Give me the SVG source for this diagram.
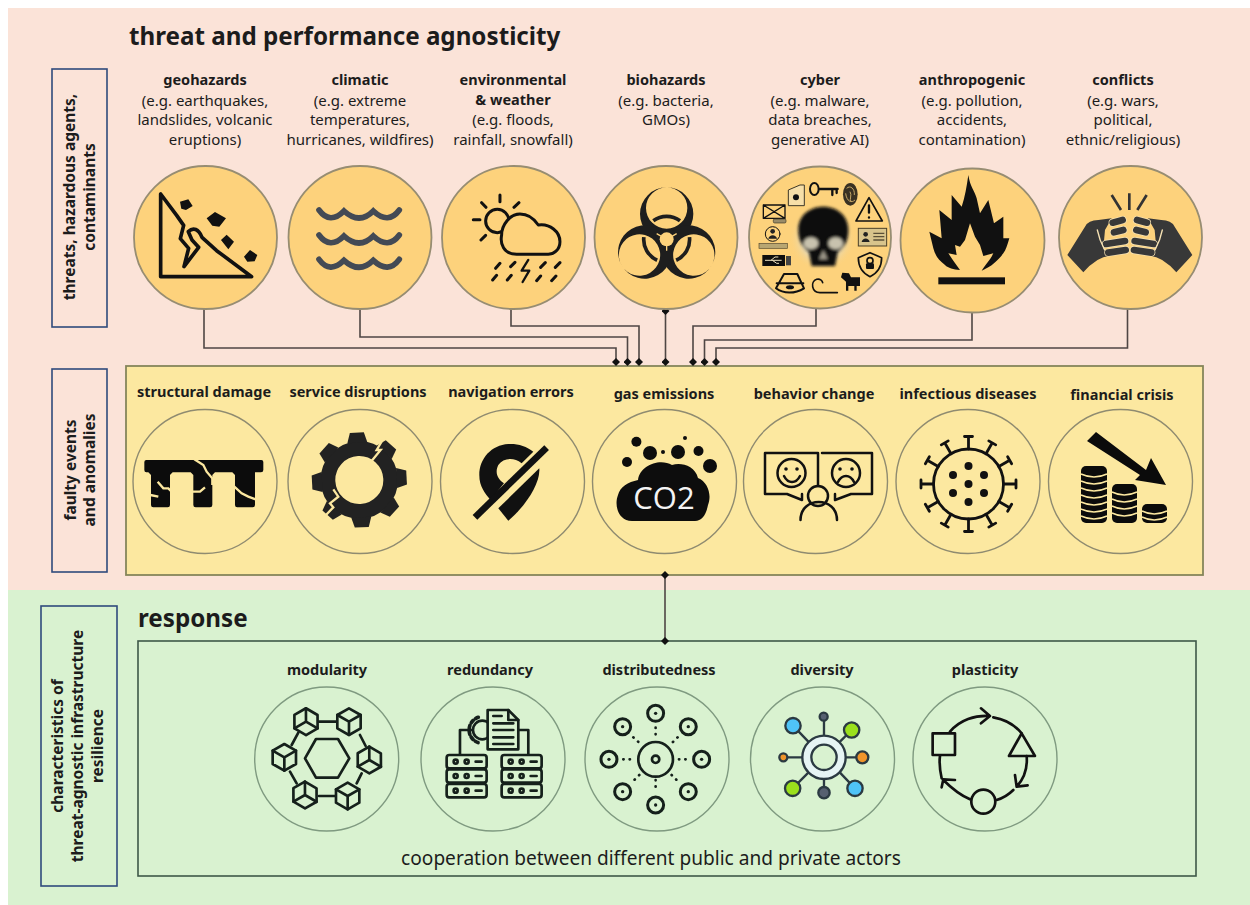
<svg xmlns="http://www.w3.org/2000/svg" xmlns:xlink="http://www.w3.org/1999/xlink" width="1250" height="905" viewBox="0 0 1250 905">
<style>
text{font-family:"Noto Sans","Liberation Sans",Arial,sans-serif;fill:#1c1c1c;text-anchor:middle}
.h{font-size:24.200px;font-weight:700;text-anchor:start}
.b{font-size:14.500px;font-weight:700}
.t{font-size:15px}
.side{font-size:15.500px;font-weight:700}
.sb{fill:none;stroke:#2f4a7c;stroke-width:1.6}
.oc{fill:#fdd27c;stroke:#978d72;stroke-width:1.8}
.yc{fill:#fce8a0;stroke:#8f8b70;stroke-width:1.4}
.gc{fill:#d9f2d0;stroke:#7f9a80;stroke-width:1.4}
.con{fill:none;stroke:#4f4644;stroke-width:1.6}
.ln{fill:none;stroke:#15201b;stroke-width:8;stroke-linecap:round;stroke-linejoin:round}
.k{fill:none;stroke:#111;stroke-linecap:round;stroke-linejoin:round}
</style>
<defs>
<marker id="dia" viewBox="-5 -5 10 10" markerWidth="8" markerHeight="8" markerUnits="userSpaceOnUse" orient="auto"><path d="M-5 0L0-5L5 0L0 5Z" fill="#111"/></marker>
<filter id="blur" x="-20%" y="-20%" width="140%" height="140%"><feGaussianBlur stdDeviation="5"/></filter>
<radialGradient id="glow"><stop offset="0" stop-color="#efe8d4"/><stop offset=".6" stop-color="#e6d9b4"/><stop offset="1" stop-color="#fdd27c" stop-opacity="0"/></radialGradient>
<g id="cube" class="ln"><path d="M0-40L35-20V20L0 40L-35 20V-20Z"/><path d="M-35-20L0 0L35-20M0 0V40"/></g>
<g id="sat"><circle r="24" fill="none" stroke="#15201b" stroke-width="9"/><circle r="5" fill="#15201b"/></g>
<g id="srv" class="ln"><rect x="0" y="0" width="120" height="40" rx="8"/><rect x="0" y="43" width="120" height="40" rx="8"/><rect x="0" y="87" width="120" height="40" rx="8"/><circle cx="27" cy="20" r="6"/><circle cx="60" cy="20" r="6"/><path d="M87 20H105"/><circle cx="27" cy="63" r="6"/><circle cx="60" cy="63" r="6"/><path d="M87 63H105"/><circle cx="27" cy="107" r="6"/><circle cx="60" cy="107" r="6"/><path d="M87 107H105"/></g>
<g id="spike"><path d="M0-35V-47M-4-47.500H4" fill="none" stroke="#111" stroke-width="2.800" stroke-linecap="round"/></g>
<g id="fist"><path d="M22 210L75 125Q85 105 115 105L155 100L135 135L130 190L150 212Q110 215 70 262Z" fill="#383838"/>
<g fill="none" stroke-linecap="round"><path d="M158 113L188 105M162 142L190 135M138 177L195 168M145 203L197 195" stroke="#f6e2b4" stroke-width="24"/><path d="M158 113L188 105M162 142L190 135M138 177L195 168M145 203L197 195" stroke="#383838" stroke-width="20"/><path d="M112 135Q118 165 134 195" stroke="#f6e2b4" stroke-width="4"/></g></g>
<path id="crescent" fill-rule="evenodd" d="M90 102a80 80 0 1 0 160 0a80 80 0 1 0-160 0ZM108 84a62 62 0 1 0 124 0a62 62 0 1 0-124 0Z"/>
</defs>

<rect x="8" y="8" width="1242" height="582" fill="#fbe3d8"/>
<rect x="8" y="590" width="1242" height="315" fill="#d9f2d0"/>
<text class="h" x="129" y="45">threat and performance agnosticity</text>
<text class="h" x="138" y="627">response</text>

<g id="side-threats"><rect class="sb" x="52" y="69" width="55" height="258"/><text class="side" transform="translate(75,197) rotate(-90)">threats, hazardous agents,</text><text class="side" transform="translate(95,197) rotate(-90)">contaminants</text></g>
<g id="side-faulty"><rect class="sb" x="52" y="369" width="55" height="203"/><text class="side" transform="translate(76,470) rotate(-90)">faulty events</text><text class="side" transform="translate(95,470) rotate(-90)">and anomalies</text></g>
<g id="side-resilience"><rect class="sb" x="41" y="606" width="76" height="280"/><text class="side" transform="translate(63,746) rotate(-90)">characteristics of</text><text class="side" transform="translate(83,746) rotate(-90)">threat-agnostic infrastructure</text><text class="side" transform="translate(103,746) rotate(-90)">resilience</text></g>

<g id="faulty-panel"><rect x="126" y="366" width="1077" height="209" fill="#fce8a0" stroke="#85855a" stroke-width="1.800"/></g>
<g id="response-panel"><rect x="138" y="641" width="1058" height="235" fill="none" stroke="#3e5848" stroke-width="1.600"/><text x="651" y="865" style="font-size:19.100px">cooperation between different public and private actors</text></g>

<g id="connectors">
<path class="con" marker-end="url(#dia)" d="M204 309V348H616V362"/>
<path class="con" marker-end="url(#dia)" d="M360 309V337H627.500V362"/>
<path class="con" marker-end="url(#dia)" d="M511 309V326H639V362"/>
<path class="con" marker-start="url(#dia)" marker-end="url(#dia)" d="M665.500 311V362"/>
<path class="con" marker-end="url(#dia)" d="M816 309V326H693V362"/>
<path class="con" marker-end="url(#dia)" d="M972 313V340H704.500V362"/>
<path class="con" marker-end="url(#dia)" d="M1127.500 309V348H716V362"/>
<path class="con" marker-start="url(#dia)" marker-end="url(#dia)" d="M665 575V641"/>
</g>

<g id="geohazards"><text class="b" x="205" y="85">geohazards</text><text class="t" x="205" y="106">(e.g. earthquakes,</text><text class="t" x="205" y="125">landslides, volcanic</text><text class="t" x="205" y="145">eruptions)</text>
<circle class="oc" cx="205.500" cy="237.500" r="71.500"/>
<g transform="translate(120,160) scale(.3333)">
<path class="k" stroke-width="11" d="M122 102V350H395L290 272L246 232C236 207 220 200 205 215L216 240L236 262L192 320L206 265L181 236L191 196L170 166Z"/>
<path d="M180 125L205 118L218 138L198 150L184 146Z M260 175L285 156L318 175L298 200L277 197Z M303 240L320 224L342 245L325 268Z M372 290L390 270L412 285L404 304L382 305Z" fill="#111"/></g></g>

<g id="climatic"><text class="b" x="360" y="85">climatic</text><text class="t" x="360" y="106">(e.g. extreme</text><text class="t" x="360" y="125">temperatures,</text><text class="t" x="360" y="145">hurricanes, wildfires)</text>
<circle class="oc" cx="360" cy="237.500" r="71.500"/>
<g transform="translate(120,160) scale(.3333)" fill="none" stroke="#434a55" stroke-width="17" stroke-linecap="round">
<path d="M597 150Q630 195 672 153Q718 195 760 153Q805 195 838 150"/>
<path d="M597 225Q630 270 672 228Q718 270 760 228Q805 270 838 225"/>
<path d="M597 298Q630 343 672 301Q718 343 760 301Q805 343 838 298"/></g></g>

<g id="environmental"><text class="b" x="513" y="85">environmental</text><text class="b" x="513" y="105">&amp; weather</text><text class="t" x="513" y="125">(e.g. floods,</text><text class="t" x="513" y="145">rainfall, snowfall)</text>
<circle class="oc" cx="513.500" cy="237.500" r="71.500"/>
<g transform="translate(120,160) scale(.3333)">
<circle class="k" stroke-width="9" cx="1132" cy="183" r="35"/>
<path class="k" stroke-width="9" d="M1140 105V125M1085 128L1098 142M1197 128L1182 142M1060 179H1080M1083 240L1097 226"/>
<path d="M1190 283C1150 283 1140 250 1145 225C1145 195 1170 162 1200 162C1230 162 1245 180 1255 195C1290 190 1320 215 1320 245C1320 270 1300 283 1285 283Z" fill="#fdd27c" stroke="#111" stroke-width="9" stroke-linejoin="round"/>
<path class="k" stroke-width="9" d="M1127 325L1140 310M1172 320L1185 307M1118 360L1130 346M1162 360L1174 346M1262 322L1276 308M1306 322L1320 308M1250 362L1262 348M1295 362L1308 348"/>
<path class="k" stroke-width="7" d="M1225 300L1205 332H1228L1208 366"/></g></g>

<g id="biohazards"><text class="b" x="666" y="85">biohazards</text><text class="t" x="666" y="106">(e.g. bacteria,</text><text class="t" x="666" y="125">GMOs)</text>
<circle class="oc" cx="666" cy="237.500" r="71.500"/>
<g transform="translate(610,180) scale(.3333)" fill="#1e1e1e">
<use href="#crescent"/><use href="#crescent" transform="rotate(120 170 178)"/><use href="#crescent" transform="rotate(240 170 178)"/>
<path d="M170 178V212M170 178L140 161M170 178L200 161" stroke="#fdd27c" stroke-width="4" fill="none"/>
<circle cx="170" cy="178" r="21" fill="#fdd27c"/>
<g fill="none" stroke="#1e1e1e" stroke-width="11"><path d="M130 122A68 68 0 0 1 210 122"/><path d="M130 122A68 68 0 0 1 210 122" transform="rotate(120 170 178)"/><path d="M130 122A68 68 0 0 1 210 122" transform="rotate(240 170 178)"/></g></g></g>

<g id="cyber"><text class="b" x="820" y="85">cyber</text><text class="t" x="820" y="106">(e.g. malware,</text><text class="t" x="820" y="125">data breaches,</text><text class="t" x="820" y="145">generative AI)</text>
<circle class="oc" cx="820" cy="237.500" r="71"/>
<g transform="translate(745,160) scale(.3333)">
<circle cx="232" cy="235" r="100" fill="url(#glow)"/>
<g filter="url(#blur)"><path d="M160 210C160 165 195 140 235 140C278 140 310 168 310 210C310 240 300 262 278 275L270 318H200L192 275C172 262 160 240 160 210Z" fill="#0c0c0c"/><ellipse cx="198" cy="250" rx="22" ry="18" fill="#c8c2ae"/><ellipse cx="272" cy="250" rx="22" ry="18" fill="#c8c2ae"/><path d="M235 270L222 298H248Z" fill="#9c9788"/></g>
<path d="M130 90L165 75H178V137H130Z" fill="#f7dfa8" stroke="#3c3626" stroke-width="3"/><circle cx="153" cy="112" r="9" fill="#111"/>
<ellipse class="k" stroke-width="6" cx="208" cy="87" rx="13" ry="18"/><path class="k" stroke-width="7" d="M222 87H278M262 87V105M275 87V99"/>
<ellipse cx="316" cy="103" rx="22" ry="34" fill="#3a3122"/><path d="M305 85C315 75 330 85 328 105M302 100C305 125 320 130 330 120M315 95C322 105 312 118 318 125" fill="none" stroke="#c7a866" stroke-width="3"/>
<path class="k" stroke-width="5" d="M372 113L333 183H412Z"/><path class="k" stroke-width="7" d="M372 136V158M372 172V173"/>
<rect x="340" y="205" width="85" height="53" fill="#d8c48c" stroke="#4a3f28" stroke-width="3"/><circle cx="362" cy="223" r="7" fill="#222"/><path d="M350 246C352 232 372 232 374 246Z" fill="#222"/><path d="M385 220H418M385 230H418M385 240H418" stroke="#5b5038" stroke-width="4"/>
<path class="k" stroke-width="5" d="M375 278L410 293C410 320 395 340 375 350C355 340 340 320 340 293Z"/><circle class="k" stroke-width="5" cx="375" cy="302" r="9"/><rect x="363" y="310" width="24" height="17" rx="3" fill="#111"/>
<path d="M292 338L312 340L318 352H345V378H335V392H328V378H310V392H303V365L288 352Z" fill="#111"/>
<path class="k" stroke-width="5" d="M277 398H225C200 398 195 365 215 358C225 355 232 362 233 368"/>
<path class="k" stroke-width="6" d="M93 385L117 342H157L177 385C150 402 115 402 93 385ZM95 370H175"/><ellipse cx="135" cy="382" rx="12" ry="6" fill="#111"/>
<rect x="52" y="285" width="68" height="33" fill="#0e0e0e"/><path d="M60 301H110M78 301L90 291H100M82 301L95 310H102" fill="none" stroke="#efe3c0" stroke-width="3"/><rect x="123" y="288" width="15" height="28" fill="#444"/>
<circle class="k" stroke-width="3" cx="83" cy="222" r="22"/><circle cx="83" cy="214" r="7" fill="#222"/><path d="M70 236C72 222 94 222 96 236Z" fill="#222"/><rect x="42" y="250" width="85" height="15" fill="#b8a672" stroke="#54492e" stroke-width="2"/>
<path class="k" stroke-width="4" d="M55 135H120V175H55ZM55 135L120 175M120 135L55 175"/><rect x="85" y="177" width="38" height="12" rx="4" fill="#9a8c68" stroke="#3c3626" stroke-width="2"/>
</g></g>

<g id="anthropogenic"><text class="b" x="972" y="85">anthropogenic</text><text class="t" x="972" y="106">(e.g. pollution,</text><text class="t" x="972" y="125">accidents,</text><text class="t" x="972" y="145">contamination)</text>
<circle class="oc" cx="972.500" cy="240.500" r="72"/>
<g transform="translate(920,170) scale(.3333)" fill="#111">
<path d="M145 15C150 50 165 65 170 85L180 130L205 90L222 160L250 140L250 205L268 205C262 225 258 240 250 250C235 270 215 290 185 302C195 285 210 272 220 250L190 258L180 225L165 200L150 160L135 210L120 230L105 225L110 255L85 250L100 272L120 300C100 298 85 295 75 285C55 270 45 255 40 235L28 185L65 205L58 120L95 150L95 75L125 110C135 80 140 50 145 15Z"/>
<rect x="55" y="322" width="200" height="21"/></g></g>

<g id="conflicts"><text class="b" x="1123" y="85">conflicts</text><text class="t" x="1123" y="106">(e.g. wars,</text><text class="t" x="1123" y="125">political,</text><text class="t" x="1123" y="145">ethnic/religious)</text>
<circle class="oc" cx="1130.500" cy="237.500" r="71.500"/>
<g transform="translate(1060,185) scale(.3333)">
<use href="#fist"/><use href="#fist" transform="translate(419,0) scale(-1,1)"/>
<path d="M155 30L183 75M208 25V75M260 30L232 75" stroke="#333" stroke-width="8" fill="none"/></g></g>

<g id="structural-damage"><text class="b" x="204" y="397">structural damage</text>
<circle class="yc" cx="205" cy="481.500" r="72"/>
<g transform="translate(135,450) scale(.3333)">
<path d="M34 30H379Q385 30 385 36V60Q385 67 378 67H360V165Q360 172 353 172H307Q300 172 300 165V75L292 67H240L232 75V165Q232 172 225 172H182Q175 172 175 165V75L167 67H113L105 75V165Q105 172 98 172H55Q48 172 48 165V75L40 67H34Q28 67 28 60V36Q28 30 34 30Z" fill="#0c0c0c"/>
<path d="M178 28L205 45L215 65L232 85L232 105M68 95L85 115L100 115L110 125M46 135L70 140M172 125L195 125L210 112M298 110L320 130L340 140L362 148" fill="none" stroke="#fce8a0" stroke-width="7"/></g></g>

<g id="service-disruptions"><text class="b" x="358" y="397">service disruptions</text>
<circle class="yc" cx="360" cy="481.500" r="72"/>
<g transform="translate(120,400) scale(.3333)">
<g transform="rotate(-3 718 240)"><circle cx="718" cy="240" r="94" fill="none" stroke="#222" stroke-width="44"/>
<g fill="#222"><path d="M688 128L697 98H739L748 128Z"/><path d="M688 128L697 98H739L748 128Z" transform="rotate(45 718 240)"/><path d="M688 128L697 98H739L748 128Z" transform="rotate(90 718 240)"/><path d="M688 128L697 98H739L748 128Z" transform="rotate(135 718 240)"/><path d="M688 128L697 98H739L748 128Z" transform="rotate(180 718 240)"/><path d="M688 128L697 98H739L748 128Z" transform="rotate(225 718 240)"/><path d="M688 128L697 98H739L748 128Z" transform="rotate(270 718 240)"/><path d="M688 128L697 98H739L748 128Z" transform="rotate(315 718 240)"/></g></g>
<path d="M795 108L770 150L782 150L745 195M640 268L655 290L630 310L640 322L618 345" fill="none" stroke="#fce8a0" stroke-width="7"/></g></g>

<g id="navigation-errors"><text class="b" x="511" y="397">navigation errors</text>
<circle class="yc" cx="512.500" cy="481.500" r="72"/>
<g transform="translate(120,400) scale(.3333)" fill="#111">
<path d="M1240 155C1220 138 1190 130 1165 132C1115 135 1078 175 1078 225C1078 260 1095 280 1112 300L1152 250C1130 235 1125 215 1135 195C1150 175 1180 170 1205 190Z"/>
<path d="M1258 205C1262 250 1215 320 1165 362L1135 325Z"/>
<path d="M1065 352L1280 143" stroke="#111" stroke-width="20" fill="none"/></g></g>

<g id="gas-emissions"><text class="b" x="664" y="399">gas emissions</text>
<circle class="yc" cx="664.500" cy="481.500" r="72"/>
<g fill="#0d0d0d"><circle cx="636.400" cy="441.700" r="5"/><circle cx="650" cy="453" r="7"/><circle cx="627" cy="462" r="5"/><circle cx="663" cy="452" r="2"/><circle cx="678" cy="452" r="7"/><circle cx="685" cy="438" r="2"/><circle cx="698.500" cy="451" r="5"/><circle cx="710" cy="466" r="7"/>
<path d="M632 521C618 521 614 505 618 495C620 487 628 482 638 480C640 465 660 458 672 465C680 462 695 465 698 478C708 482 712 495 708 505C706 515 702 521 695 521Z"/></g>
<text x="664" y="509" style="font-size:31px;fill:#f4f4f4;font-family:'Open Sans',sans-serif">CO2</text></g>

<g id="behavior-change"><text class="b" x="814" y="399">behavior change</text>
<circle class="yc" cx="815.500" cy="481.500" r="72"/>
<g class="k" stroke-width="2.500">
<path d="M818 486V453H765V494H787L802 500V494"/><path d="M822 453H872V494H851L835 500V494"/>
<circle cx="791.500" cy="473" r="14"/><circle cx="846" cy="473" r="14"/>
<circle cx="818" cy="496" r="10"/><path d="M800.500 520C800.500 496 837 496 837 520"/>
<path d="M784 476C788 484 796 484 800 476M838 482C842 474 850 474 854 482"/></g>
<g fill="#111"><circle cx="786" cy="469" r="1.800"/><circle cx="797" cy="469" r="1.800"/><circle cx="840" cy="469" r="1.800"/><circle cx="852" cy="469" r="1.800"/></g></g>

<g id="infectious-diseases"><text class="b" x="968" y="399">infectious diseases</text>
<circle class="yc" cx="968" cy="481.500" r="72"/>
<g transform="translate(968.500,484)"><circle r="35" fill="none" stroke="#111" stroke-width="2.800"/>
<use href="#spike"/><use href="#spike" transform="rotate(30)"/><use href="#spike" transform="rotate(60)"/><use href="#spike" transform="rotate(90)"/><use href="#spike" transform="rotate(120)"/><use href="#spike" transform="rotate(150)"/><use href="#spike" transform="rotate(180)"/><use href="#spike" transform="rotate(210)"/><use href="#spike" transform="rotate(240)"/><use href="#spike" transform="rotate(270)"/><use href="#spike" transform="rotate(300)"/><use href="#spike" transform="rotate(330)"/>
<g fill="#111"><circle r="4"/><circle cy="-18" r="4"/><circle cy="18" r="4"/><circle cx="-15.500" cy="-9" r="4"/><circle cx="15.500" cy="-9" r="4"/><circle cx="-15.500" cy="9" r="4"/><circle cx="15.500" cy="9" r="4"/></g></g></g>

<g id="financial-crisis"><text class="b" x="1122" y="400">financial crisis</text>
<circle class="yc" cx="1120.500" cy="481.500" r="72"/>
<path d="M1087 441L1096 432L1146 470L1151 458L1166 485L1135 480L1140 475Z" fill="#0b0b0b"/>
<g fill="#0b0b0b"><rect x="1081" y="466" width="26" height="57" rx="5"/><rect x="1112" y="484" width="25" height="39" rx="5"/><rect x="1142" y="504" width="25" height="19" rx="5"/></g>
<path d="M1081 474Q1094 480 1107 474M1081 481Q1094 487 1107 481M1081 488Q1094 494 1107 488M1081 495Q1094 501 1107 495M1081 502Q1094 508 1107 502M1081 509Q1094 515 1107 509M1081 516Q1094 522 1107 516M1112 492Q1124 498 1137 492M1112 499Q1124 505 1137 499M1112 506Q1124 512 1137 506M1112 513Q1124 519 1137 513M1142 511Q1154 517 1167 511M1142 517Q1154 523 1167 517" fill="none" stroke="#fce8a0" stroke-width="1.500"/></g>

<g id="modularity"><text class="b" x="327" y="675">modularity</text>
<circle class="gc" cx="326.700" cy="759" r="72"/>
<g transform="translate(245,680) scale(.3333)">
<path class="ln" d="M213 177H279L313 235L279 293H213L180 235Z"/>
<path class="ln" d="M222 125H272M345 165L362 198M350 280L335 310M270 348H222M155 310L135 275M140 195L160 158"/>
<use href="#cube" transform="translate(183,125) rotate(60)"/><use href="#cube" transform="translate(312,125)"/><use href="#cube" transform="translate(118,232)"/><use href="#cube" transform="translate(373,240) rotate(60)"/><use href="#cube" transform="translate(180,345) rotate(60)"/><use href="#cube" transform="translate(308,348)"/></g></g>

<g id="redundancy"><text class="b" x="490" y="675">redundancy</text>
<circle class="gc" cx="493" cy="759" r="72"/>
<g transform="translate(245,680) scale(.3333)">
<circle class="ln" cx="712" cy="150" r="28"/><path class="ln" stroke-dasharray="9 9" style="stroke-width:11" d="M700 112A40 40 0 0 0 700 188"/>
<path class="ln" d="M645 222V150H680M850 222V150H820"/>
<path class="ln" style="fill:#d9f2d0" d="M728 90H790L820 120V208H728Z"/><path class="ln" d="M790 90V120H820M745 108H770M745 130H805M745 150H805M745 172H805M745 192H805"/>
<use href="#srv" transform="translate(605,225)"/><use href="#srv" transform="translate(770,225)"/></g></g>

<g id="distributedness"><text class="b" x="659" y="675">distributedness</text>
<circle class="gc" cx="657" cy="759" r="72"/>
<g transform="translate(245,680) scale(.3333)">
<circle cx="1232" cy="238" r="52" fill="none" stroke="#15201b" stroke-width="8"/><circle cx="1232" cy="238" r="11" fill="none" stroke="#15201b" stroke-width="8"/>
<use href="#sat" x="1232" y="100"/><use href="#sat" x="1330" y="140"/><use href="#sat" x="1370" y="238"/><use href="#sat" x="1330" y="335"/><use href="#sat" x="1232" y="375"/><use href="#sat" x="1133" y="335"/><use href="#sat" x="1092" y="238"/><use href="#sat" x="1133" y="140"/>
<path class="ln" stroke-dasharray="1 18" d="M1232 143V176M1232 300V335M1135 238H1168M1302 238H1335M1298 172L1280 190M1183 285L1165 303M1165 172L1185 190M1280 285L1298 303"/></g></g>

<g id="diversity"><text class="b" x="822" y="675">diversity</text>
<circle class="gc" cx="822.500" cy="759" r="72"/>
<g transform="translate(735,680) scale(.3333)" stroke="#2b3a42" stroke-width="7">
<path fill="none" d="M267 110V170M174 137L220 185M350 150L315 185M382 232H330M145 232H205M173 325L220 278M267 338V295M360 325L315 278"/>
<circle cx="267" cy="232" r="65" fill="#e6f4f4"/><circle cx="267" cy="232" r="38" fill="#d9f2d0"/>
<circle cx="266" cy="110" r="12" fill="#566070"/><circle cx="174" cy="137" r="23" fill="#4fc3f7"/><circle cx="350" cy="150" r="23" fill="#9be01d"/><circle cx="382" cy="232" r="18" fill="#f0952b"/><circle cx="145" cy="232" r="12" fill="#f0952b"/><circle cx="173" cy="325" r="23" fill="#9be01d"/><circle cx="267" cy="338" r="17" fill="#566070"/><circle cx="360" cy="325" r="23" fill="#4fc3f7"/></g></g>

<g id="plasticity"><text class="b" x="985" y="675">plasticity</text>
<circle class="gc" cx="985" cy="759" r="72"/>
<g transform="translate(735,680) scale(.3333)" class="ln" style="stroke:#111">
<path d="M645 155C675 120 720 105 765 108M738 85L765 108L738 130M775 112C810 118 840 135 860 160M875 228C878 262 868 295 845 320M878 316L845 320L840 285M835 330C820 345 802 355 785 360M705 358C675 345 650 325 625 300M620 322L625 298L660 300M620 295C615 272 612 250 615 228"/>
<rect x="593" y="160" width="67" height="65"/><path d="M860 160L822 228H900Z"/><circle cx="745" cy="365" r="36"/></g></g>
</svg>
